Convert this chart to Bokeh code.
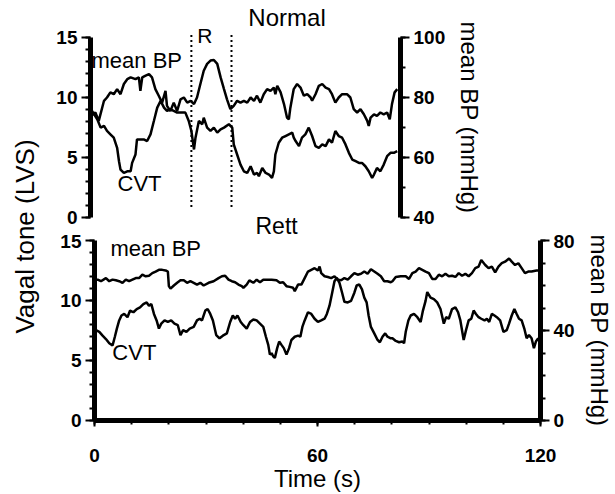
import math
from bokeh.plotting import figure
from bokeh.models import Range1d, LinearAxis, SingleIntervalTicker, Label
from bokeh.layouts import row, column
from bokeh.embed import file_html
from bokeh.resources import INLINE

# ---------------- data (time in s, value) ----------------
normal_bp = [(0.3, 74.0), (1.3, 75.0), (2.2, 72.2), (3.6, 78.9), (4.4, 80.0), (5.3, 81.7), (6.2, 81.1),
             (7.1, 82.8), (8.0, 81.1), (8.9, 84.5), (9.8, 86.1), (10.7, 86.7), (12.0, 86.1), (12.9, 86.7),
             (13.3, 82.2), (13.8, 86.7), (14.7, 87.3), (15.6, 87.8), (16.4, 86.7), (17.3, 82.8), (18.2, 80.6),
             (19.1, 78.3), (20.0, 82.2), (20.4, 77.2), (21.3, 75.5), (22.2, 78.3), (23.1, 75.5), (24.0, 79.4),
             (24.9, 80.0), (25.8, 78.3), (26.7, 78.9), (27.6, 77.8), (28.4, 80.0), (29.3, 84.5), (30.2, 88.9),
             (31.1, 91.2), (32.0, 92.3), (32.9, 92.5), (33.8, 91.2), (34.7, 86.7), (35.6, 82.8), (36.4, 79.4),
             (37.3, 76.1), (38.2, 77.2), (39.1, 78.9), (40.0, 78.3), (40.9, 78.9), (41.8, 78.3), (42.7, 80.0),
             (43.6, 78.9), (44.4, 80.6), (45.3, 78.3), (46.2, 81.1), (47.1, 82.8), (48.0, 82.2), (48.9, 83.3),
             (49.3, 81.1), (49.8, 83.9), (50.7, 81.7), (51.6, 77.8), (52.4, 73.3), (52.9, 72.7), (53.3, 76.6),
             (54.2, 82.8), (55.1, 84.5), (56.0, 83.3), (56.9, 80.6), (57.8, 81.1), (58.7, 80.0), (59.1, 78.9),
             (60.0, 81.1), (60.9, 83.9), (61.8, 84.5), (62.7, 83.3), (63.6, 82.8), (64.4, 81.1), (65.3, 78.3),
             (66.2, 80.0), (67.1, 81.1), (68.4, 81.1), (69.3, 80.0), (70.2, 76.1), (71.1, 75.0), (72.0, 76.1),
             (72.9, 74.4), (73.8, 72.2), (74.2, 70.5), (74.7, 73.3), (75.6, 74.4), (76.4, 73.9), (77.3, 75.0),
             (78.2, 74.4), (79.1, 75.0), (79.8, 72.7), (80.4, 77.8), (81.1, 81.7), (81.8, 82.8)]

normal_cvt = [(0.4, 8.88), (1.8, 8.18), (2.7, 7.49), (3.6, 7.63), (4.4, 7.21), (5.3, 6.93), (6.2, 6.65),
              (7.1, 5.81), (7.6, 4.69), (8.0, 3.99), (8.9, 3.71), (9.8, 3.85), (10.7, 3.85), (11.1, 4.55),
              (12.0, 5.25), (12.4, 6.51), (13.3, 6.51), (14.2, 6.51), (15.1, 6.37), (16.0, 6.93), (16.9, 8.04),
              (17.8, 9.16), (18.7, 9.72), (19.6, 9.16), (20.4, 8.88), (21.3, 9.02), (22.2, 8.88), (23.1, 8.74),
              (24.4, 8.74), (25.3, 8.74), (26.2, 8.04), (26.9, 7.21), (27.6, 5.67), (28.0, 6.65), (28.9, 8.04),
              (29.8, 7.77), (30.2, 8.32), (31.1, 7.49), (32.0, 7.21), (32.9, 7.49), (33.8, 7.07), (34.7, 7.35),
              (35.6, 7.49), (36.9, 7.77), (37.8, 7.49), (38.2, 6.09), (39.1, 5.25), (40.0, 4.41), (40.9, 3.85),
              (41.8, 3.71), (42.7, 4.27), (43.6, 3.58), (44.4, 3.71), (44.9, 3.44), (45.8, 4.13), (46.7, 3.71),
              (47.6, 3.58), (48.4, 3.30), (48.9, 3.85), (49.3, 5.25), (50.2, 6.23), (51.1, 6.65), (52.0, 6.79),
              (52.9, 6.93), (53.8, 7.07), (54.2, 6.65), (54.7, 6.37), (55.6, 5.95), (56.4, 6.65), (57.3, 6.93),
              (58.2, 7.49), (59.1, 6.79), (60.0, 5.95), (60.9, 5.81), (61.8, 6.09), (62.7, 5.95), (63.6, 6.51),
              (64.4, 6.23), (65.3, 7.21), (66.2, 6.79), (67.1, 6.65), (68.0, 6.09), (68.9, 5.39), (69.8, 4.83),
              (70.7, 4.69), (71.6, 4.55), (72.4, 4.55), (73.3, 4.27), (74.2, 3.85), (75.1, 3.30), (75.6, 3.58),
              (76.4, 4.13), (77.3, 3.85), (78.2, 4.41), (79.1, 5.11), (80.0, 5.39), (80.9, 5.39), (81.8, 5.53)]

rett_bp = [(0.2, 62.3), (0.85, 62.6), (1.74, 61.9), (3.07, 63.3), (3.97, 61.9), (4.86, 62.6), (5.75, 62.3),
           (6.64, 61.9), (7.53, 61.2), (8.42, 62.6), (9.31, 61.9), (10.2, 62.6), (11.1, 63.3), (11.99, 63.3),
           (12.88, 64.8), (13.77, 64.1), (14.66, 64.35), (15.55, 65.5), (16.44, 66.2), (17.33, 66.95),
           (18.23, 66.95), (19.12, 66.7), (19.74, 66.2), (20.01, 59.7), (20.45, 58.6), (21.35, 60.0),
           (22.24, 61.2), (23.13, 62.3), (24.02, 62.3), (24.91, 61.2), (25.8, 61.9), (26.69, 61.2),
           (27.58, 60.4), (28.47, 61.2), (29.37, 60.0), (30.7, 61.2), (32.04, 61.9), (33.38, 63.3),
           (34.27, 64.1), (35.16, 64.35), (36.05, 62.6), (36.94, 61.9), (37.83, 61.45), (38.72, 60.4),
           (39.62, 59.7), (40.06, 59.0), (40.95, 60.4), (41.67, 62.3), (42.74, 61.2), (43.63, 62.6),
           (44.52, 61.45), (45.41, 62.6), (46.3, 62.6), (47.64, 62.6), (48.97, 62.3), (49.87, 61.2),
           (50.76, 61.45), (51.65, 59.7), (52.54, 59.4), (53.43, 59.0), (53.88, 57.5), (54.77, 60.4),
           (55.66, 60.4), (56.55, 63.3), (57.44, 66.2), (58.33, 66.95), (59.22, 67.7), (60.11, 66.7),
           (60.56, 68.4), (61.0, 65.5), (61.9, 64.1), (62.79, 63.8), (63.68, 63.3), (64.57, 64.1),
           (65.46, 62.6), (66.35, 62.3), (67.24, 63.3), (68.14, 62.6), (69.03, 64.1), (69.92, 65.5),
           (70.81, 64.8), (71.7, 65.2), (72.59, 66.2), (73.48, 65.2), (74.37, 67.2), (75.27, 66.2),
           (76.16, 65.2), (77.05, 64.1), (77.94, 61.9), (78.83, 61.9), (79.72, 61.45), (80.17, 61.9),
           (81.06, 63.8), (82.4, 64.1), (83.74, 64.1), (84.63, 62.9), (85.52, 65.5), (86.41, 66.2),
           (87.3, 67.7), (88.19, 66.95), (89.08, 66.2), (89.98, 65.5), (90.87, 62.9), (91.76, 62.9),
           (92.65, 64.8), (93.54, 64.1), (94.43, 65.2), (95.32, 64.1), (96.21, 64.35), (97.11, 63.8),
           (98.0, 65.5), (98.89, 64.35), (99.78, 65.2), (100.67, 64.1), (101.56, 65.5), (102.45, 67.7),
           (103.34, 68.4), (104.06, 71.3), (105.13, 69.1), (106.02, 67.7), (106.91, 68.4), (107.8, 65.8),
           (108.69, 68.4), (109.58, 69.9), (110.47, 70.6), (111.54, 72.0), (112.26, 70.6), (113.15, 69.1),
           (114.04, 69.9), (114.93, 67.7), (115.82, 65.5), (116.71, 66.2), (117.6, 66.2), (118.94, 66.7),
           (119.8, 66.7)]

rett_cvt = [(0.4, 7.53), (1.29, 7.39), (2.18, 7.07), (3.07, 6.79), (3.97, 6.44), (4.86, 6.25), (5.48, 6.98),
            (6.02, 7.66), (6.64, 8.34), (7.26, 8.75), (7.98, 8.88), (8.87, 8.61), (9.58, 9.16), (10.47, 9.02),
            (11.36, 9.29), (12.25, 9.43), (13.15, 9.70), (14.04, 9.84), (14.66, 9.57), (15.29, 9.70),
            (16.0, 8.88), (16.71, 8.34), (17.33, 7.66), (17.96, 8.07), (18.85, 8.34), (19.74, 8.21),
            (20.63, 8.34), (21.52, 8.07), (22.42, 7.94), (23.13, 7.12), (23.84, 7.53), (24.73, 7.39),
            (25.62, 7.66), (26.69, 7.80), (27.58, 8.34), (28.30, 8.48), (28.92, 8.34), (29.81, 9.16),
            (30.44, 9.29), (31.15, 8.88), (31.86, 8.34), (32.75, 7.12), (33.64, 6.85), (34.54, 7.07),
            (35.61, 7.26), (36.5, 8.21), (37.21, 8.75), (37.83, 8.48), (38.46, 8.75), (39.35, 8.21),
            (40.06, 7.94), (40.95, 7.66), (41.84, 8.21), (42.74, 8.42), (43.63, 8.34), (44.52, 8.07),
            (45.41, 7.80), (46.12, 6.98), (46.75, 6.30), (47.19, 5.49), (47.64, 5.62), (48.08, 5.35),
            (48.53, 5.22), (49.15, 6.03), (49.69, 6.58), (50.31, 6.30), (50.93, 6.03), (51.65, 5.49),
            (52.36, 6.03), (52.98, 6.71), (53.88, 6.98), (54.77, 7.07), (55.39, 6.98), (55.93, 7.80),
            (56.55, 8.34), (57.44, 9.02), (58.33, 8.88), (59.22, 8.48), (60.11, 8.21), (61.0, 8.34),
            (61.9, 8.48), (62.52, 8.88), (63.23, 9.57), (63.95, 10.65), (64.57, 11.60), (65.19, 11.88),
            (65.91, 11.47), (66.62, 10.65), (67.24, 9.89), (68.14, 9.84), (69.03, 9.97), (69.92, 10.65),
            (70.54, 11.25), (71.26, 11.33), (71.97, 10.92), (72.59, 10.24), (73.22, 9.84), (73.75, 8.75),
            (74.37, 7.80), (75.27, 7.26), (76.16, 6.71), (76.78, 6.52), (77.49, 6.98), (78.21, 7.26),
            (78.83, 6.98), (79.72, 6.85), (80.17, 6.85), (81.06, 6.63), (81.95, 6.52), (82.85, 6.58),
            (83.29, 6.44), (83.74, 7.39), (84.45, 8.34), (85.07, 8.75), (85.96, 8.88), (86.86, 8.61),
            (87.75, 8.21), (88.37, 9.16), (89.08, 9.97), (89.53, 10.70), (90.42, 10.24), (91.31, 10.11),
            (92.2, 9.84), (93.09, 9.29), (93.99, 8.07), (94.61, 8.61), (95.32, 8.48), (96.21, 9.29),
            (97.11, 9.43), (97.82, 9.02), (98.44, 8.34), (99.33, 6.71), (99.96, 7.53), (100.67, 8.34),
            (101.38, 8.48), (102.01, 9.16), (102.63, 8.88), (103.34, 8.61), (104.06, 8.48), (104.95, 8.34),
            (105.57, 8.48), (106.2, 8.21), (106.91, 8.88), (107.62, 8.75), (108.25, 8.61), (109.14, 8.34),
            (110.03, 7.39), (110.92, 7.53), (111.54, 8.07), (112.26, 8.75), (112.97, 9.29), (113.59, 8.88),
            (114.22, 8.48), (114.93, 8.34), (115.64, 7.66), (116.27, 6.85), (116.89, 7.12), (117.6, 6.85),
            (118.23, 6.03), (118.76, 6.58), (119.39, 6.85)]

r_window = [26.9, 37.6]          # response period markers (s)
normal_time_span = 82.67        # seconds shown in the Normal panel
cvt_axis = (0, 15)
normal_bp_axis = (40, 100)
rett_bp_axis = (0, 80)

FONT = "Liberation Sans"


def xs(pairs):
    return [p[0] for p in pairs]


def ys(pairs):
    return [p[1] for p in pairs]


def style_axis(ax):
    ax.axis_line_width = 5
    ax.axis_line_color = "black"
    ax.major_tick_line_width = 2
    ax.minor_tick_line_width = 2
    ax.major_tick_line_color = "black"
    ax.minor_tick_line_color = "black"
    ax.major_tick_out = 9
    ax.major_tick_in = 0
    ax.minor_tick_out = 5
    ax.minor_tick_in = 0
    ax.major_label_text_font = FONT
    ax.major_label_text_font_size = "19px"
    ax.major_label_text_font_style = "bold"
    ax.major_label_text_color = "black"
    ax.major_label_standoff = 4
    ax.axis_label_text_font = FONT
    ax.axis_label_text_font_size = "24px"
    ax.axis_label_text_font_style = "normal"
    ax.axis_label_text_color = "black"
    ax.axis_label_standoff = 8


def text_label(p, x, y, txt, size="22px", align="left"):
    p.add_layout(Label(x=x, y=y, text=txt, text_font=FONT, text_font_size=size,
                       text_align=align, text_baseline="middle", text_color="black"))


# ---------------- label strip on the left ----------------
p0 = figure(width=46, height=494, x_range=Range1d(0, 46), y_range=Range1d(0, 494),
            x_axis_location=None, y_axis_location=None, toolbar_location=None,
            output_backend="svg", min_border=0, outline_line_color=None)
p0.grid.visible = False
p0.add_layout(Label(x=24, y=258, text="Vagal tone (LVS)", angle=math.pi / 2,
                    text_align="center", text_baseline="middle", text_font=FONT,
                    text_font_size="26px", text_color="black"))

# ---------------- Normal panel ----------------
# frame covers the whole height of this plot; the axes are bounded to the data scale
top_lo, top_hi = -1.4167, 18.083
p1 = figure(width=569, height=234, x_range=Range1d(0, normal_time_span), y_range=Range1d(top_lo, top_hi),
            x_axis_location=None, y_axis_location=None, toolbar_location=None,
            output_backend="svg", min_border_left=44, min_border_right=215,
            min_border_top=0, min_border_bottom=0, outline_line_color=None, frame_align=False)
p1.grid.visible = False
bp_scale = (normal_bp_axis[1] - normal_bp_axis[0]) / (cvt_axis[1] - cvt_axis[0])
p1.extra_y_ranges = {"bp": Range1d(normal_bp_axis[0] + top_lo * bp_scale,
                                   normal_bp_axis[0] + top_hi * bp_scale)}
ax = LinearAxis(ticker=SingleIntervalTicker(interval=5, num_minor_ticks=5), bounds=cvt_axis)
style_axis(ax)
p1.add_layout(ax, "left")
ax = LinearAxis(y_range_name="bp", ticker=SingleIntervalTicker(interval=20, num_minor_ticks=2),
                axis_label="mean BP (mmHg)", bounds=normal_bp_axis)
style_axis(ax)
p1.add_layout(ax, "right")

p1.line(xs(normal_cvt), ys(normal_cvt), line_width=2.5, color="black")
p1.line(xs(normal_bp), ys(normal_bp), line_width=2.5, color="black", y_range_name="bp")
for t in r_window:
    p1.segment(x0=[t], y0=[15.2], x1=[t], y1=[0.7], line_width=2, color="black", line_dash="2 3")
text_label(p1, 0.27, 13.08, "mean BP")
text_label(p1, 7.2, 2.83, "CVT")
text_label(p1, 30.5, 15.2, "R", size="21px", align="center")
text_label(p1, 42.1, 16.63, "Normal", size="24px")
text_label(p1, 44.0, -0.667, "Rett", size="23px")

# ---------------- Rett panel ----------------
p2 = figure(width=569, height=260, x_range=Range1d(0, 120), y_range=Range1d(*cvt_axis),
            x_axis_location=None, y_axis_location=None, toolbar_location=None,
            output_backend="svg", min_border_left=48, min_border_right=72,
            min_border_top=6, min_border_bottom=70, outline_line_color=None, frame_align=False)
p2.grid.visible = False
p2.extra_y_ranges = {"bp": Range1d(*rett_bp_axis)}
ax = LinearAxis(ticker=SingleIntervalTicker(interval=5, num_minor_ticks=5))
style_axis(ax)
p2.add_layout(ax, "left")
ax = LinearAxis(y_range_name="bp", ticker=SingleIntervalTicker(interval=40, num_minor_ticks=4),
                axis_label="mean BP (mmHg)")
style_axis(ax)
p2.add_layout(ax, "right")
ax = LinearAxis(ticker=SingleIntervalTicker(interval=60, num_minor_ticks=6), axis_label="Time (s)")
style_axis(ax)
ax.major_tick_out = 6
ax.minor_tick_out = 4
ax.major_label_standoff = 22
ax.axis_label_standoff = 0
p2.add_layout(ax, "below")

p2.line(xs(rett_cvt), ys(rett_cvt), line_width=2.5, color="black")
p2.line(xs(rett_bp), ys(rett_bp), line_width=2.5, color="black", y_range_name="bp")
text_label(p2, 4.3, 14.35, "mean BP")
text_label(p2, 4.8, 5.7, "CVT")

layout = row(p0, column(p1, p2))
open("out.html", "w").write(file_html(layout, INLINE))
